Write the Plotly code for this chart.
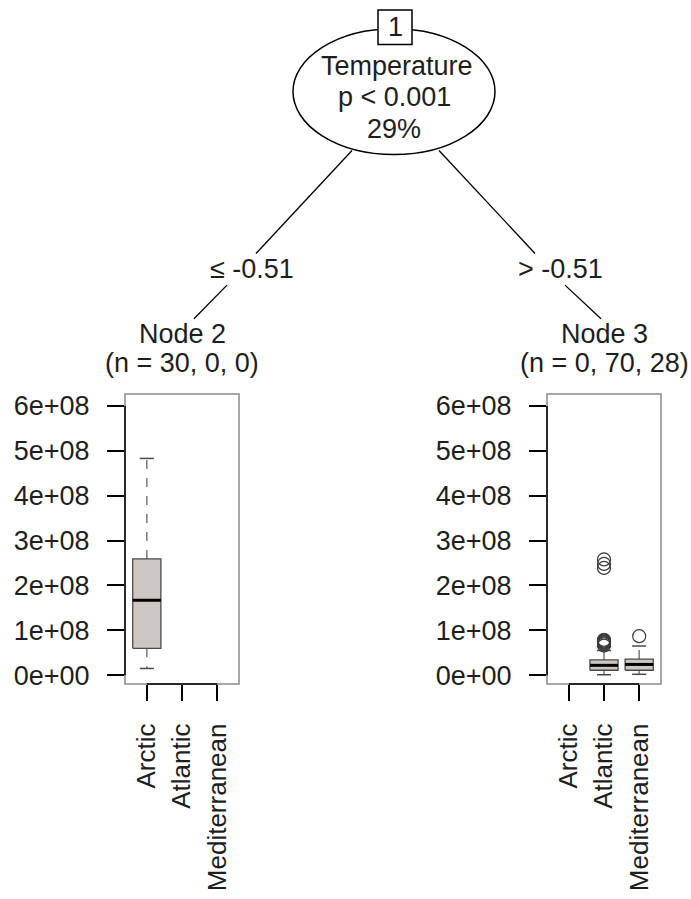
import plotly.graph_objects as go

# ---------------- data ----------------
categories = ["Arctic", "Atlantic", "Mediterranean"]
cat_pos = [1, 2, 3]

root_id = "1"
split_var = "Temperature"
p_text = "p < 0.001"
pct_text = "29%"
left_edge = "≤ -0.51"
right_edge = "> -0.51"

node2_label = "Node 2"
node2_counts = [30, 0, 0]
node3_label = "Node 3"
node3_counts = [0, 70, 28]

y_tickvals = [0, 1e8, 2e8, 3e8, 4e8, 5e8, 6e8]
y_ticktext = ["0e+00", "1e+08", "2e+08", "3e+08", "4e+08", "5e+08", "6e+08"]

# box statistics per category: (lower whisker, q1, median, q3, upper whisker)
node2_stats = {"Arctic": (0.15e8, 0.60e8, 1.67e8, 2.59e8, 4.83e8)}
node2_outliers = {}
node3_stats = {"Atlantic": (0.01e8, 0.11e8, 0.22e8, 0.34e8, 0.55e8),
               "Mediterranean": (0.02e8, 0.11e8, 0.24e8, 0.36e8, 0.65e8)}
node3_outliers = {"Atlantic": [0.66e8, 0.69e8, 0.71e8, 0.73e8, 0.75e8, 0.77e8, 0.79e8,
                               2.39e8, 2.48e8, 2.58e8],
                  "Mediterranean": [0.87e8]}

# ---------------- layout helpers ----------------
W, H = 691, 899
def px(x):
    return x / W
def py(y):
    return 1 - y / H

TXT = "#1e1e1e"
FONT = "Liberation Sans, Arial, Helvetica, sans-serif"
FS = 27
BOX_FILL = "#cdc7c4"
BOX_LINE = "#4a4a4a"

fig = go.Figure()

def add_boxes(stats, outliers, xa, ya):
    for cat, (lo, q1, med, q3, hi) in stats.items():
        p = cat_pos[categories.index(cat)]
        hw = 0.4
        cw = 0.2
        # whiskers (dashed)
        fig.add_trace(go.Scatter(x=[p, p, None, p, p], y=[q3, hi, None, q1, lo], mode="lines",
                                 line=dict(color="#7a7a7a", width=1.5, dash="dash"),
                                 xaxis=xa, yaxis=ya, hoverinfo="skip"))
        # caps
        fig.add_trace(go.Scatter(x=[p - cw, p + cw, None, p - cw, p + cw], y=[hi, hi, None, lo, lo],
                                 mode="lines", line=dict(color=BOX_LINE, width=1.5),
                                 xaxis=xa, yaxis=ya, hoverinfo="skip"))
        # box
        fig.add_trace(go.Scatter(x=[p - hw, p + hw, p + hw, p - hw, p - hw], y=[q1, q1, q3, q3, q1],
                                 mode="lines", fill="toself", fillcolor=BOX_FILL,
                                 line=dict(color=BOX_LINE, width=1.3),
                                 xaxis=xa, yaxis=ya, hoverinfo="skip"))
        # median
        fig.add_trace(go.Scatter(x=[p - hw, p + hw], y=[med, med], mode="lines",
                                 line=dict(color="black", width=3),
                                 xaxis=xa, yaxis=ya, hoverinfo="skip"))
    for cat, vals in outliers.items():
        p = cat_pos[categories.index(cat)]
        fig.add_trace(go.Scatter(x=[p] * len(vals), y=vals, mode="markers",
                                 marker=dict(symbol="circle-open", size=13, color="#3a3a3a",
                                             line=dict(width=1.2, color="#3a3a3a")),
                                 xaxis=xa, yaxis=ya, hoverinfo="skip"))

add_boxes(node2_stats, node2_outliers, "x", "y")
add_boxes(node3_stats, node3_outliers, "x2", "y2")

yr = [-0.1985e8, 6.2647e8]
xr = [0.38, 3.62]
ydom = [py(688), py(395)]

yax = dict(range=yr, domain=ydom, tickvals=y_tickvals, ticktext=y_ticktext, ticks="outside",
           ticklen=17, tickwidth=1.5, tickcolor="black", showline=False, showgrid=False,
           zeroline=False, ticklabelstandoff=12,
           tickfont=dict(family=FONT, size=FS, color=TXT))
xax = dict(range=xr, tickvals=cat_pos, ticktext=categories, tickangle=-90, ticks="outside",
           ticklen=16, tickwidth=1.5, tickcolor="black", showline=False, showgrid=False,
           zeroline=False, ticklabelstandoff=12,
           tickfont=dict(family=FONT, size=FS - 1, color=TXT))

fig.update_layout(
    width=W, height=H, margin=dict(l=0, r=0, t=0, b=0),
    paper_bgcolor="white", plot_bgcolor="white", showlegend=False,
    xaxis=dict(xax, domain=[px(125), px(239)], anchor="y"),
    yaxis=dict(yax, anchor="x"),
    xaxis2=dict(xax, domain=[px(547), px(661)], anchor="y2"),
    yaxis2=dict(yax, anchor="x2"),
    font=dict(family=FONT, size=FS, color=TXT),
)

shapes = []
# panel frames and axis lines
for xa, ya in [("x", "y"), ("x2", "y2")]:
    shapes.append(dict(type="rect", xref=f"{xa} domain", yref=f"{ya} domain", x0=0, x1=1, y0=0, y1=1,
                       line=dict(color="#8a8a8a", width=1.5), layer="below"))
    shapes.append(dict(type="line", xref=f"{xa} domain", yref=ya, x0=0, x1=0,
                       y0=min(y_tickvals), y1=max(y_tickvals), line=dict(color="black", width=1.5)))
    shapes.append(dict(type="line", xref=xa, yref=f"{ya} domain", x0=min(cat_pos), x1=max(cat_pos),
                       y0=0, y1=0, line=dict(color="black", width=1.5)))

# tree edges
for (x0, y0, x1, y1) in [(352, 149, 256, 253), (439, 149, 535, 253),
                         (227, 285, 194, 319), (565, 285, 601, 319)]:
    shapes.append(dict(type="line", xref="paper", yref="paper", x0=px(x0), y0=py(y0), x1=px(x1), y1=py(y1),
                       line=dict(color="black", width=1.3)))
# root ellipse and id box
shapes.append(dict(type="circle", xref="paper", yref="paper", x0=px(293), x1=px(495), y0=py(153), y1=py(26),
                   line=dict(color="black", width=1.5), fillcolor="white"))
shapes.append(dict(type="rect", xref="paper", yref="paper", x0=px(378), x1=px(412), y0=py(42), y1=py(7),
                   line=dict(color="black", width=1.5), fillcolor="white"))
fig.update_layout(shapes=shapes)

def fmt_counts(c):
    return "(n = " + ", ".join(str(v) for v in c) + ")"

ann = []
def add_text(t, x, y):
    ann.append(dict(text=t, x=px(x), y=py(y), xref="paper", yref="paper", showarrow=False,
                    xanchor="center", yanchor="middle", font=dict(family=FONT, size=FS, color=TXT)))

add_text(root_id, 395, 24)
add_text(split_var, 397, 64)
add_text(p_text, 394, 95)
add_text(pct_text, 394, 127)
add_text(left_edge, 252, 269)
add_text(right_edge, 560, 269)
add_text(node2_label, 182, 334)
add_text(fmt_counts(node2_counts), 182, 364)
add_text(node3_label, 604, 334)
add_text(fmt_counts(node3_counts), 604, 364)
fig.update_layout(annotations=ann)

fig.write_html("out.html")
